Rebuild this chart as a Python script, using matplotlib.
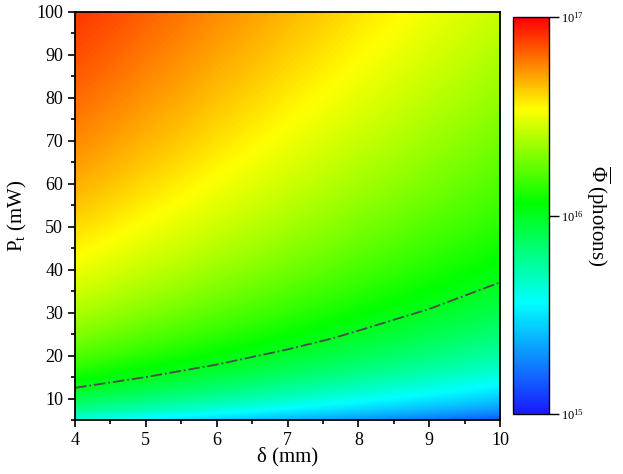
import numpy as np
import matplotlib
matplotlib.use("Agg")
import matplotlib.pyplot as plt
from matplotlib.colors import LinearSegmentedColormap, LogNorm
from matplotlib.ticker import MultipleLocator, NullLocator

plt.rcParams['font.family'] = ['Liberation Serif', 'DejaVu Serif']
plt.rcParams['mathtext.fontset'] = 'custom'
plt.rcParams['mathtext.rm'] = 'Liberation Serif'
plt.rcParams['mathtext.it'] = 'Liberation Serif:italic'
plt.rcParams['mathtext.bf'] = 'Liberation Serif:bold'

# --- data ---
delta_mm = [4, 5, 6, 7, 8, 9, 10]
power_mW = [5, 24, 43, 62, 81, 100]
# mean photon number, in units of 1e16 photons; rows = power, cols = delta
phi_1e16 = [
    [0.40, 0.334, 0.279, 0.232, 0.194, 0.162, 0.135],
    [1.92, 1.60, 1.34, 1.12, 0.93, 0.78, 0.65],
    [3.44, 2.87, 2.40, 2.00, 1.67, 1.39, 1.16],
    [4.96, 4.14, 3.45, 2.88, 2.40, 2.01, 1.67],
    [6.48, 5.41, 4.51, 3.77, 3.14, 2.62, 2.19],
    [8.00, 6.68, 5.57, 4.65, 3.88, 3.24, 2.70],
]
contour_level_1e16 = [1.0]
cbar_ticks = [1e15, 1e16, 1e17]

phi = np.array(phi_1e16) * 1e16
dx = delta_mm[1] - delta_mm[0]
dy = power_mW[1] - power_mW[0]

cmap = LinearSegmentedColormap.from_list(
    "origin_rainbow",
    [(0.0, (0.10, 0.10, 1.0)),
     (0.28, (0.0, 1.0, 1.0)),
     (0.53, (0.0, 1.0, 0.0)),
     (0.77, (1.0, 1.0, 0.0)),
     (1.0, (1.0, 0.0, 0.0))], N=256)
norm = LogNorm(vmin=1e15, vmax=1e17)

fig = plt.figure(figsize=(6.23, 4.74), dpi=100)
ax = fig.add_axes([0.1204, 0.1139, 0.6822, 0.8608])
cax = fig.add_axes([0.8234, 0.1266, 0.0578, 0.8375])

im = ax.imshow(phi, origin='lower', aspect='auto', cmap=cmap, norm=norm,
               extent=[delta_mm[0] - dx / 2, delta_mm[-1] + dx / 2,
                       power_mW[0] - dy / 2, power_mW[-1] + dy / 2],
               interpolation='bilinear', interpolation_stage='data')
ax.contour(delta_mm, power_mW, phi, levels=np.array(contour_level_1e16) * 1e16,
           colors='#4a4a4a', linestyles='-.', linewidths=1.3)

ax.set_xlim(4, 10)
ax.set_ylim(5, 100)
ax.xaxis.set_major_locator(MultipleLocator(1))
ax.xaxis.set_minor_locator(MultipleLocator(0.5))
ax.yaxis.set_major_locator(MultipleLocator(10))
ax.yaxis.set_minor_locator(MultipleLocator(5))
ax.tick_params(which='both', direction='out', top=False, right=False, width=1.2,
               labelsize=13)
ax.tick_params(which='major', length=5)
ax.tick_params(which='minor', length=3)
for s in ax.spines.values():
    s.set_linewidth(1.3)
ax.set_xlabel(r'δ (mm)', fontsize=15, labelpad=-1)
ax.set_ylabel(r'P$_\mathrm{t}$ (mW)', fontsize=15, labelpad=5)

cb = fig.colorbar(im, cax=cax)
cb.set_ticks(cbar_ticks)
cb.ax.yaxis.set_minor_locator(NullLocator())
cb.ax.tick_params(which='major', direction='out', length=7, width=1.0,
                  labelsize=9, pad=2)
cb.outline.set_linewidth(1.0)
cb.set_label(r'$\overline{\Phi}$ (photons)', rotation=270, fontsize=15, labelpad=20)

fig.savefig('out.png', dpi=100)
